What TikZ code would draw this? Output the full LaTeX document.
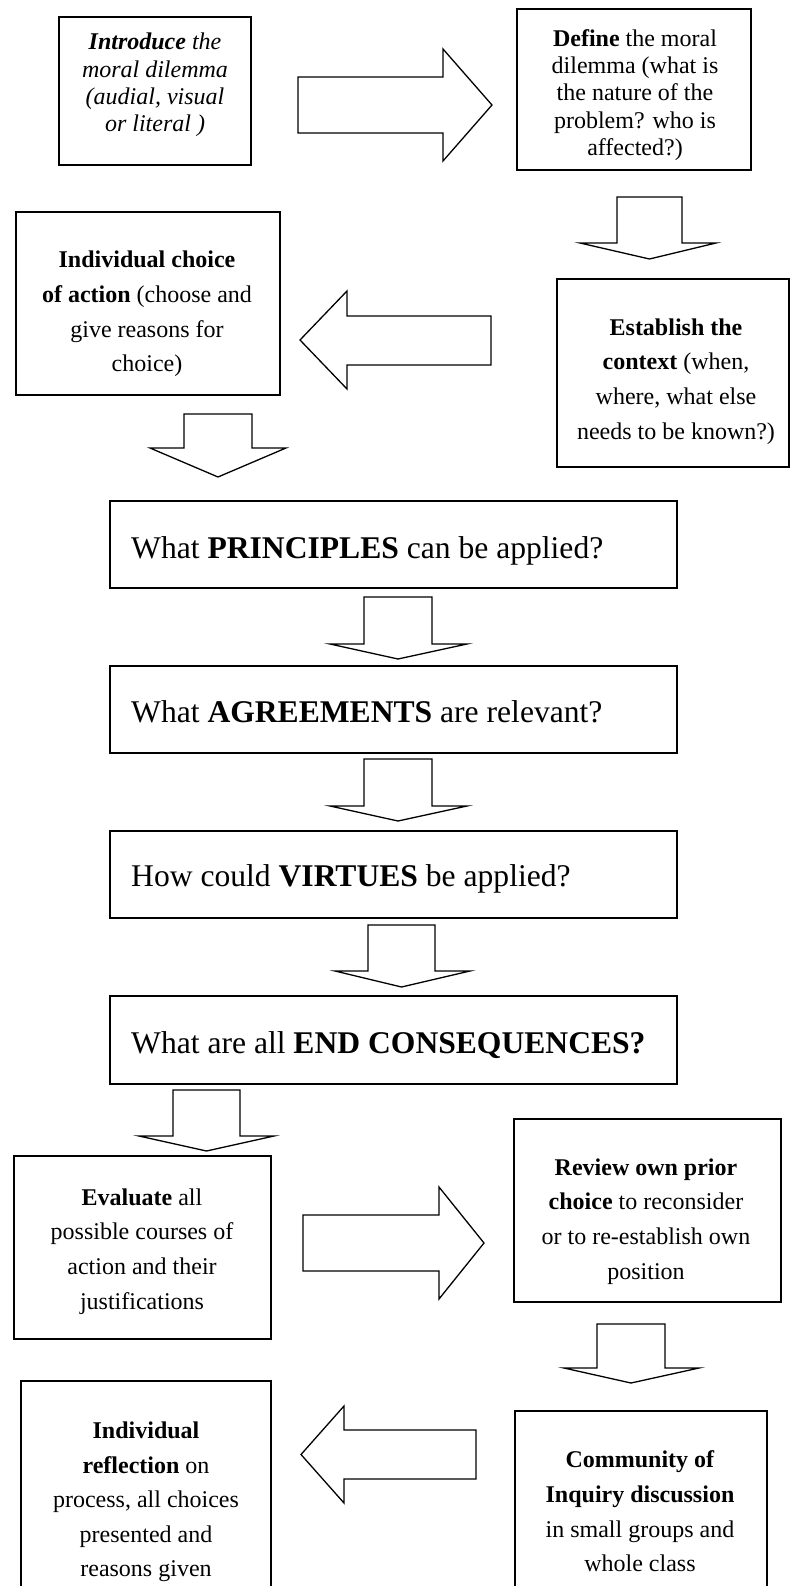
\documentclass[tikz,border=0pt]{standalone}
\usepackage{fontspec}
\setmainfont{Liberation Serif}
\newcommand\blkdown[7]{% xl xr ytop ywing wingl wingr ytip
  \draw[blockarrow] (#1,#3) -- (#2,#3) -- (#2,#4) -- (#6,#4) -- ({(#1+#2)/2},#7) -- (#5,#4) -- (#1,#4) -- cycle;}
\newcommand\blkhoriz[7]{% xtail xhead ybody1 ybody2 yhead1 yhead2 xtip
  \draw[blockarrow] (#1,#3) -- (#2,#3) -- (#2,#5) -- (#7,{(#5+#6)/2}) -- (#2,#6) -- (#2,#4) -- (#1,#4) -- cycle;}
\begin{document}
\begin{tikzpicture}[x=1pt,y=-1pt,
  box/.style={draw=black, line width=1.6pt, rectangle, inner sep=0pt, outer sep=0pt},
  smalltxt/.style={align=center, font=\fontsize{24}{27.4}\selectfont, inner sep=0pt},
  widetxt/.style={align=center, font=\fontsize{24}{34.6}\selectfont, inner sep=0pt},
  bigtxt/.style={anchor=base west, font=\fontsize{31.6}{38}\selectfont, inner sep=0pt},
  blockarrow/.style={draw=black, line width=1.3pt, fill=white, line join=miter}]
\fill[white] (0,0) rectangle (791,1586);
\useasboundingbox (0,0) rectangle (791,1586);

% boxes
\node[box, minimum width=192pt, minimum height=148pt] (intro) at (155,91) {};
\node[box, minimum width=234pt, minimum height=161pt] (define) at (634,89.5) {};
\node[box, minimum width=264pt, minimum height=183pt] (choice) at (148,303.5) {};
\node[box, minimum width=232pt, minimum height=188pt] (context) at (673,373) {};
\node[box, minimum width=567pt, minimum height=87pt] (princ) at (393.5,544.5) {};
\node[box, minimum width=567pt, minimum height=87pt] (agree) at (393.5,709.5) {};
\node[box, minimum width=567pt, minimum height=87pt] (virt) at (393.5,874.5) {};
\node[box, minimum width=567pt, minimum height=88pt] (endc) at (393.5,1040) {};
\node[box, minimum width=257pt, minimum height=183pt] (eval) at (142.5,1247.5) {};
\node[box, minimum width=267pt, minimum height=183pt] (review) at (647.5,1210.5) {};
\node[box, minimum width=250pt, minimum height=259pt] (reflect) at (146,1510.5) {};
\node[box, minimum width=252pt, minimum height=229pt] (commun) at (641,1525.5) {};

% texts
\node[smalltxt] (introt) at (155,85) {\textbf{\textit{Introduce}} \textit{the}\\ \textit{moral dilemma}\\ \textit{(audial, visual}\\ \textit{or literal )}};
\node[smalltxt] (definet) at (635,95) {\textbf{Define} the moral\\ dilemma (what is\\ the nature of the\\ problem? who is\\ affected?)};
\node[widetxt] (choicet) at (147,314) {\textbf{Individual choice}\\ \textbf{of action} (choose and\\ give reasons for\\ choice)};
\node[widetxt] (contextt) at (676,381.5) {\textbf{Establish the}\\ \textbf{context} (when,\\ where, what else\\ needs to be known?)};
\node[bigtxt] (princt) at (131,558) {What \textbf{PRINCIPLES} can be applied?};
\node[bigtxt] (agreet) at (131,722) {What \textbf{AGREEMENTS} are relevant?};
\node[bigtxt] (virtt) at (131,886) {How could \textbf{VIRTUES} be applied?};
\node[bigtxt] (endct) at (131,1053) {What are all \textbf{END CONSEQUENCES?}};
\node[widetxt] (evalt) at (142,1251.5) {\textbf{Evaluate} all\\ possible courses of\\ action and their\\ justifications};
\node[widetxt] (reviewt) at (646,1221.5) {\textbf{Review own prior}\\ \textbf{choice} to reconsider\\ or to re-establish own\\ position};
\node[widetxt] (reflectt) at (146,1502) {\textbf{Individual}\\ \textbf{reflection} on\\ process, all choices\\ presented and\\ reasons given};
\node[widetxt] (communt) at (640,1511.5) {\textbf{Community of}\\ \textbf{Inquiry discussion}\\ in small groups and\\ whole class};

% block arrows
\blkhoriz{298}{443}{77}{133}{49}{161}{492}
\blkdown{617}{682}{197}{243}{580}{716}{259}
\blkhoriz{491}{347}{316}{365}{291}{389}{300}
\blkdown{184}{252}{414}{448}{150}{286}{477}
\blkdown{364}{432}{597}{644}{330}{467}{659}
\blkdown{364}{432}{759}{806}{330}{467}{821}
\blkdown{368}{435}{925}{971}{335}{470}{987}
\blkdown{173}{240}{1090}{1136}{139}{274}{1151}
\blkhoriz{303}{439}{1215}{1271}{1187}{1299}{484}
\blkdown{597}{665}{1324}{1368}{564}{699}{1383}
\blkhoriz{476}{344}{1430}{1479}{1406}{1503}{301}
\end{tikzpicture}
\end{document}
